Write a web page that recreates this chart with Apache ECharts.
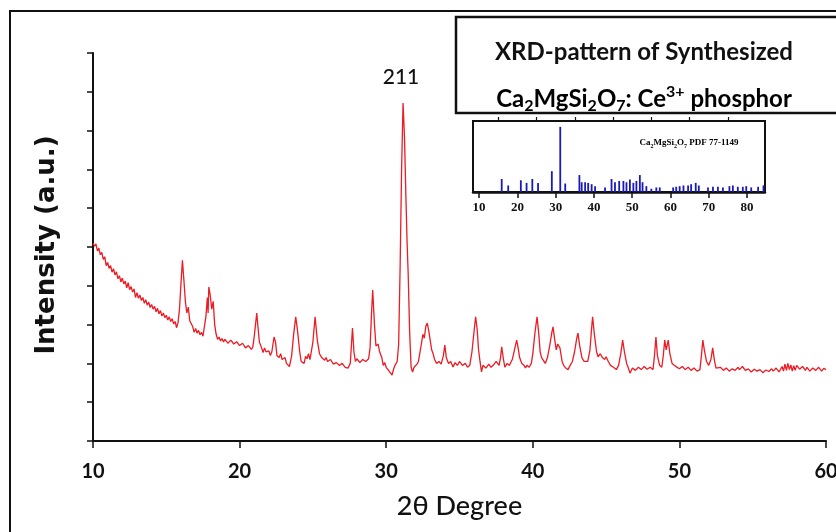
<!DOCTYPE html>
<html>
<head>
<meta charset="utf-8">
<script src="https://cdn.jsdelivr.net/npm/echarts@6/dist/echarts.min.js"></script>
<style>html,body{margin:0;padding:0;background:#fff}#c{width:836px;height:532px}</style>
</head>
<body>
<div id="c"></div>
<script>
// ---- Data ----
const xTicks = [10, 20, 30, 40, 50, 60];
const insetTicks = [10, 20, 30, 40, 50, 60, 70, 80];
const insetMinorTicks = [15, 25, 35, 45, 55, 65, 75];
const peakLabel = '211';

// Measured XRD pattern: [2θ, intensity (a.u.)]
const xrdPattern = [
[10.0,5.10],[10.1,5.02],[10.2,5.08],[10.3,4.90],[10.4,4.97],[10.5,4.80],[10.6,4.86],[10.7,4.68],[10.8,4.75],[10.9,4.52],
[11.0,4.60],[11.1,4.45],[11.2,4.52],[11.3,4.35],[11.4,4.44],[11.5,4.28],[11.6,4.36],[11.7,4.18],[11.8,4.26],[11.9,4.10],
[12.0,4.20],[12.1,4.05],[12.2,4.12],[12.3,3.95],[12.4,4.08],[12.5,3.90],[12.6,3.98],[12.7,3.84],[12.8,3.92],[12.9,3.70],
[13.0,3.82],[13.1,3.68],[13.2,3.76],[13.3,3.62],[13.4,3.70],[13.5,3.55],[13.6,3.64],[13.7,3.50],[13.8,3.58],[13.9,3.44],
[14.0,3.52],[14.1,3.40],[14.2,3.47],[14.3,3.33],[14.4,3.42],[14.5,3.28],[14.6,3.36],[14.7,3.22],[14.8,3.30],[14.9,3.18],
[15.0,3.24],[15.1,3.12],[15.2,3.20],[15.3,3.08],[15.4,3.15],[15.5,3.02],[15.6,3.08],[15.7,2.92],[15.8,3.05],[15.9,3.40],
[16.0,4.05],[16.1,4.66],[16.2,4.15],[16.3,3.60],[16.4,3.30],[16.5,3.45],[16.6,3.10],[16.7,3.05],[16.8,2.95],[16.9,2.80],
[17.0,2.90],[17.1,2.78],[17.2,2.85],[17.3,2.74],[17.4,2.80],[17.5,2.70],[17.6,2.66],[17.7,3.20],[17.8,3.70],[17.85,3.30],
[17.9,3.97],[18.0,3.75],[18.1,3.40],[18.2,3.60],[18.3,3.00],[18.4,2.75],[18.5,2.62],[18.6,2.68],[18.7,2.58],[18.8,2.64],
[18.9,2.55],[19.0,2.62],[19.2,2.52],[19.4,2.60],[19.6,2.50],[19.8,2.56],[20.0,2.46],[20.2,2.52],[20.4,2.40],[20.6,2.46],
[20.8,2.36],[20.9,2.42],[21.0,2.70],[21.1,3.05],[21.17,3.30],[21.25,2.95],[21.35,2.55],[21.5,2.40],[21.6,2.28],[21.7,2.40],
[21.8,2.30],[21.9,2.25],[22.0,2.32],[22.1,2.20],[22.2,2.30],[22.35,2.68],[22.45,2.55],[22.55,2.20],[22.7,2.15],[22.8,2.25],
[22.9,2.10],[23.0,2.05],[23.1,2.15],[23.2,2.00],[23.3,1.95],[23.4,1.92],[23.55,2.20],[23.7,2.80],[23.83,3.20],[23.95,2.85],
[24.1,2.30],[24.2,2.05],[24.3,2.10],[24.4,2.00],[24.5,2.18],[24.6,2.12],[24.7,2.25],[24.8,2.10],[24.9,2.05],[25.0,2.55],
[25.15,3.20],[25.3,2.60],[25.45,2.25],[25.6,2.15],[25.7,2.20],[25.8,2.08],[25.9,2.15],[26.0,2.05],[26.2,2.10],[26.4,1.98],
[26.6,2.02],[26.8,1.95],[27.0,2.00],[27.2,1.90],[27.4,1.88],[27.55,2.00],[27.7,2.91],[27.8,2.30],[27.9,2.05],[28.0,2.12],
[28.2,2.02],[28.4,2.10],[28.6,2.05],[28.8,2.12],[28.9,2.40],[29.0,3.30],[29.08,3.89],[29.2,3.00],[29.3,2.45],[29.45,2.50],
[29.55,2.30],[29.7,2.15],[29.8,1.95],[29.9,2.02],[30.0,1.90],[30.1,1.85],[30.2,1.80],[30.3,1.75],[30.4,1.70],[30.5,1.85],
[30.6,1.95],[30.75,2.05],[30.85,2.50],[30.95,4.50],[31.05,7.00],[31.15,8.71],[31.25,7.80],[31.35,6.20],[31.42,5.18],[31.5,4.30],
[31.6,2.80],[31.7,1.90],[31.8,1.78],[31.9,1.90],[32.0,1.85],[32.1,1.98],[32.2,2.05],[32.3,2.00],[32.4,2.50],[32.5,2.75],
[32.6,2.65],[32.7,2.95],[32.8,3.04],[32.9,2.85],[33.0,2.60],[33.1,2.35],[33.2,2.25],[33.3,2.10],[33.44,2.00],[33.6,2.05],
[33.75,1.98],[33.9,2.20],[34.0,2.47],[34.1,2.15],[34.25,2.00],[34.4,2.05],[34.56,1.91],[34.7,2.02],[34.85,1.95],[35.0,2.05],
[35.2,1.95],[35.4,2.00],[35.55,1.90],[35.7,1.95],[35.85,2.30],[36.0,2.85],[36.1,3.20],[36.2,2.90],[36.3,2.35],[36.4,2.05],
[36.5,1.78],[36.6,1.95],[36.8,1.88],[37.0,1.98],[37.15,1.90],[37.3,1.95],[37.5,2.05],[37.7,1.95],[37.8,2.15],[37.88,2.43],
[38.0,2.10],[38.1,1.90],[38.25,2.00],[38.4,1.95],[38.6,2.10],[38.75,2.35],[38.9,2.60],[39.0,2.40],[39.1,2.15],[39.25,2.00],
[39.4,1.95],[39.5,1.88],[39.6,1.95],[39.75,1.90],[39.9,2.00],[40.0,2.25],[40.15,2.80],[40.29,3.20],[40.4,2.80],[40.5,2.30],
[40.6,2.15],[40.7,2.10],[40.85,2.00],[41.0,2.15],[41.15,2.45],[41.3,2.80],[41.38,2.94],[41.5,2.60],[41.6,2.35],[41.7,2.50],
[41.85,2.40],[42.0,2.05],[42.1,1.95],[42.25,1.88],[42.4,1.84],[42.55,1.95],[42.7,2.05],[42.85,2.30],[43.0,2.65],[43.08,2.78],
[43.2,2.45],[43.35,2.15],[43.5,2.05],[43.6,2.10],[43.75,2.05],[43.9,2.35],[44.0,2.85],[44.08,3.20],[44.2,2.75],[44.35,2.30],
[44.45,2.17],[44.6,2.25],[44.75,2.15],[44.9,2.10],[45.0,2.17],[45.15,2.05],[45.3,1.95],[45.5,1.90],[45.7,1.84],[45.85,1.95],
[46.0,2.25],[46.13,2.60],[46.25,2.30],[46.4,2.00],[46.5,1.90],[46.63,1.75],[46.8,1.88],[47.0,1.82],[47.2,1.90],[47.4,1.84],
[47.6,1.92],[47.8,1.85],[48.0,1.90],[48.2,1.84],[48.3,2.20],[48.4,2.68],[48.5,2.20],[48.65,1.95],[48.8,1.90],[48.9,2.20],
[49.0,2.60],[49.1,2.35],[49.24,2.60],[49.35,2.25],[49.5,2.00],[49.65,1.95],[49.8,1.91],[50.0,1.86],[50.2,1.92],[50.4,1.84],
[50.6,1.90],[50.8,1.82],[51.0,1.88],[51.2,1.80],[51.4,1.84],[51.5,2.20],[51.6,2.60],[51.7,2.35],[51.85,2.05],[52.0,1.95],
[52.15,2.10],[52.27,2.40],[52.4,2.05],[52.5,1.88],[52.6,1.84],[52.8,1.90],[53.0,1.82],[53.2,1.88],[53.4,1.80],[53.6,1.86],
[53.8,1.82],[54.0,1.90],[54.1,1.84],[54.3,1.92],[54.5,1.82],[54.7,1.86],[54.9,1.78],[55.1,1.85],[55.3,1.80],[55.5,1.84],
[55.7,1.76],[55.9,1.83],[56.1,1.79],[56.3,1.86],[56.4,1.80],[56.6,1.88],[56.8,1.78],[57.0,1.92],[57.1,1.80],[57.2,1.98],
[57.3,1.82],[57.4,2.00],[57.5,1.84],[57.6,1.96],[57.7,1.80],[57.8,1.94],[57.9,1.82],[58.0,1.95],[58.2,1.85],[58.4,1.92],
[58.6,1.82],[58.7,1.90],[58.9,1.80],[59.1,1.88],[59.3,1.82],[59.5,1.90],[59.7,1.80],[59.85,1.87],[60.0,1.84]
];

// Reference card (inset) stick pattern: [2θ, relative intensity]
const pdfSticks = [
[15.9,20],[17.6,10],[20.9,18],[22.4,14],[23.9,20],[25.4,14],[29.0,32],[31.2,100],[32.5,13],
[36.2,26],[36.8,15],[37.7,15],[38.5,14],[39.4,12],[40.3,9],[42.9,7],[44.6,20],[45.5,15],[46.6,17],
[47.7,17],[48.5,15],[49.4,19],[50.3,14],[51.1,17],[52.0,26],[52.7,15],[53.7,9],[55.0,5],[56.3,7],
[57.2,7],[60.7,7],[61.5,8],[62.4,9],[63.4,10],[64.6,10],[65.4,12],[66.6,14],[67.4,10],[69.8,7],
[71.1,8],[72.4,8],[73.7,7],[75.4,9],[76.3,10],[77.6,8],[78.9,8],[79.8,9],[81.1,7],[82.9,8],[84.3,10]
];

const chart = echarts.init(document.getElementById('c'), null, {renderer: 'canvas'});

const subRich = {
  a: {fontFamily: 'Lato', fontWeight: 'bold', fontSize: 24, color: '#111', lineHeight: 30},
  s: {fontFamily: 'Lato', fontWeight: 'bold', fontSize: 16, color: '#111', lineHeight: 16, verticalAlign: 'bottom'},
  p: {fontFamily: 'Lato', fontWeight: 'bold', fontSize: 16, color: '#111', lineHeight: 16, verticalAlign: 'top'}
};
const insetRich = {
  a: {fontFamily: 'Liberation Serif', fontWeight: 'bold', fontSize: 9, color: '#222', lineHeight: 12},
  s: {fontFamily: 'Liberation Serif', fontWeight: 'bold', fontSize: 6, color: '#222', lineHeight: 7, verticalAlign: 'bottom'}
};

const option = {
  backgroundColor: '#fff',
  animation: false,
  grid: [
    {left: 93, right: 10, top: 53, bottom: 91, containLabel: false, outerBoundsMode: 'none'},
    {left: 473, top: 121, width: 292, height: 71, containLabel: false, outerBoundsMode: 'none', show: true,
     borderColor: '#111', borderWidth: 2, backgroundColor: 'transparent'}
  ],
  xAxis: [
    {
      type: 'value', gridIndex: 0, min: 10, max: 60, interval: 10,
      name: '2θ Degree', nameLocation: 'middle', nameGap: 52,
      nameTextStyle: {fontFamily: 'Lato', fontSize: 27, fontWeight: 500, color: '#111'},
      axisLine: {show: true, onZero: false, lineStyle: {color: '#111', width: 2}},
      axisTick: {show: true, length: 7, lineStyle: {color: '#111', width: 1.5}},
      axisLabel: {show: true, margin: 21, color: '#111', fontSize: 20, fontWeight: 'bold',
        fontFamily: 'Lato', showMinLabel: true, showMaxLabel: true},
      splitLine: {show: false}
    },
    {
      type: 'value', gridIndex: 1, min: 8.4, max: 84.7,
      axisLine: {show: true, onZero: false, lineStyle: {color: '#111', width: 2.5}},
      axisTick: {show: true, length: 6, customValues: insetTicks, lineStyle: {color: '#111', width: 1.5}},
      axisLabel: {show: true, margin: 9, customValues: insetTicks, color: '#111', fontSize: 13,
        fontWeight: 'bold', fontFamily: 'Liberation Serif'},
      splitLine: {show: false}
    },
    {
      type: 'value', gridIndex: 1, min: 8.4, max: 84.7,
      axisLine: {show: false, onZero: false},
      axisTick: {show: true, length: 4, customValues: insetMinorTicks, lineStyle: {color: '#111', width: 1.2}},
      axisLabel: {show: false},
      splitLine: {show: false}
    }
  ],
  yAxis: [
    {
      type: 'value', gridIndex: 0, min: 0, max: 10, interval: 1,
      axisLine: {show: true, onZero: false, lineStyle: {color: '#111', width: 2}},
      axisTick: {show: true, length: 6, lineStyle: {color: '#111', width: 1.5}},
      axisLabel: {show: false},
      splitLine: {show: false}
    },
    {
      type: 'value', gridIndex: 1, min: 0, max: 109,
      axisLine: {show: false}, axisTick: {show: false}, axisLabel: {show: false},
      splitLine: {show: false}
    }
  ],
  series: [
    {
      type: 'line', xAxisIndex: 0, yAxisIndex: 0, data: xrdPattern,
      symbol: 'none', smooth: false,
      lineStyle: {color: '#ec1b24', width: 1.3},
      z: 3
    },
    {
      type: 'bar', xAxisIndex: 1, yAxisIndex: 1, data: pdfSticks,
      barWidth: 1.8, itemStyle: {color: '#1a1ab8'}, z: 3
    }
  ],
  graphic: [
    {type: 'rect', shape: {x: 10, y: 11, width: 900, height: 600},
     style: {fill: 'transparent', stroke: '#111', lineWidth: 2}, silent: true, z: 10},
    {type: 'rect', shape: {x: 456, y: 17, width: 420, height: 96},
     style: {fill: 'transparent', stroke: '#111', lineWidth: 2.5}, silent: true, z: 10},
    {type: 'text', x: 644, y: 52, silent: true, z: 10,
     style: {text: 'XRD-pattern of Synthesized', fontFamily: 'Lato', fontWeight: 'bold', fontSize: 24,
       fill: '#111', align: 'center', verticalAlign: 'middle'}},
    {type: 'text', x: 644, y: 99, silent: true, z: 10,
     style: {text: '{a|Ca}{s|2}{a|MgSi}{s|2}{a|O}{s|7}{a|: Ce}{p|3+}{a| phosphor}', rich: subRich,
       align: 'center', verticalAlign: 'middle'}},
    {type: 'text', x: 689, y: 143, silent: true, z: 10,
     style: {text: '{a|Ca}{s|2}{a|MgSi}{s|2}{a|O}{s|7}{a| PDF 77-1149}', rich: insetRich,
       align: 'center', verticalAlign: 'middle'}},
    {type: 'text', x: 401, y: 77, silent: true, z: 10,
     style: {text: peakLabel, fontFamily: 'Lato', fontWeight: 500, fontSize: 21, fill: '#111',
       align: 'center', verticalAlign: 'middle'}},
    {type: 'text', x: 47, y: 245, rotation: Math.PI / 2, silent: true, z: 10,
     style: {text: 'Intensity (a.u.)', fontFamily: 'DejaVu Sans', fontWeight: 'bold', fontSize: 26,
       fill: '#111', align: 'center', verticalAlign: 'middle'}}
  ]
};
chart.setOption(option);
</script>
</body>
</html>
